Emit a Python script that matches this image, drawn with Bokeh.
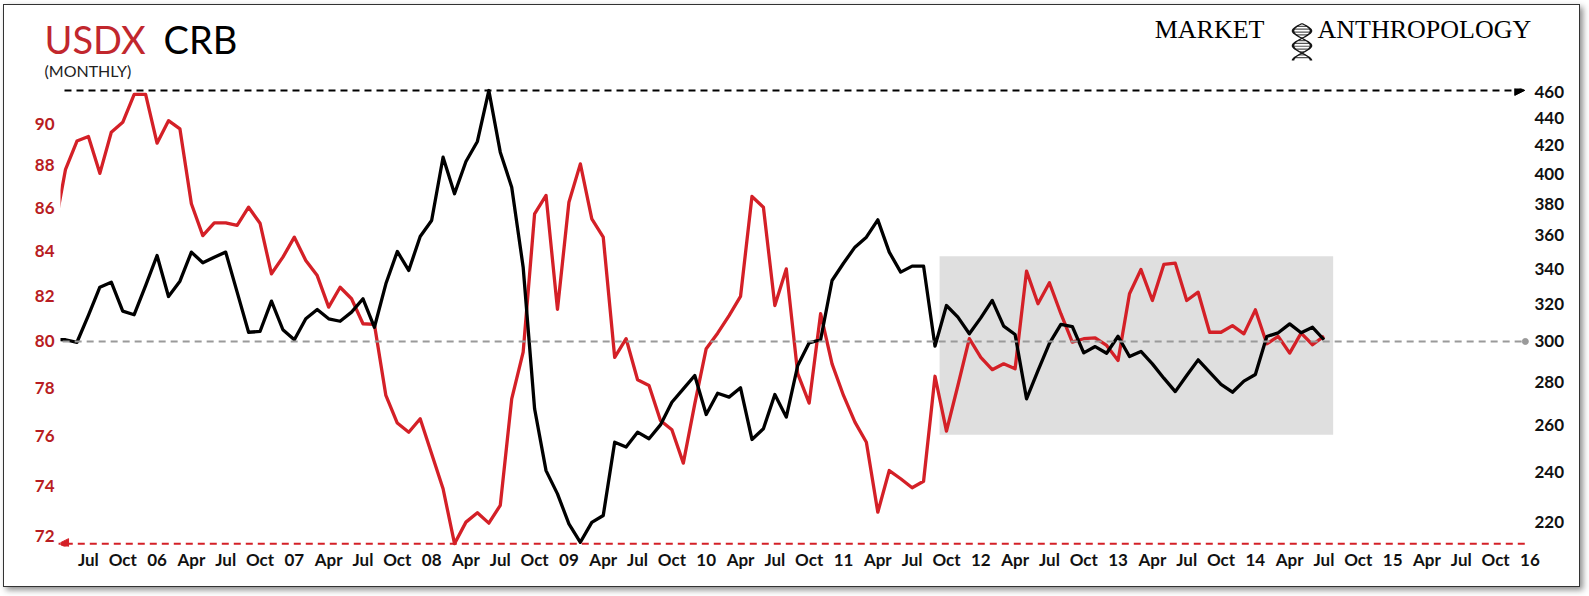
import math
from bokeh.plotting import figure
from bokeh.layouts import column
from bokeh.models import (Range1d, LogScale, LinearAxis, FixedTicker, Arrow, NormalHead)
from bokeh.core.properties import value
from bokeh.embed import file_html
from bokeh.resources import INLINE

# ---------------- data ----------------
# month index: 0 = Jan 2005  (Apr 2005 .. Jul 2014)
months = list(range(3, 115))

usdx = [84.9, 87.8, 89.15, 89.37, 87.61, 89.58, 90.06, 91.43, 91.43, 89.05,
        90.14, 89.74, 86.18, 84.71, 85.30, 85.30, 85.18, 86.02, 85.28, 82.98,
        83.73, 84.64, 83.58, 82.90, 81.50, 82.38, 81.87, 80.77, 80.74, 77.70,
        76.55, 76.17, 76.73, 75.29, 73.88, 71.72, 72.56, 72.93, 72.52, 73.22,
        77.56, 79.54, 85.71, 86.57, 81.40, 86.25, 88.06, 85.48, 84.64, 79.32,
        80.12, 78.36, 78.12, 76.66, 76.27, 74.91, 77.35, 79.69, 80.36, 81.13,
        81.97, 86.52, 86.02, 81.57, 83.20, 78.62, 77.38, 81.21, 79.04, 77.70,
        76.59, 75.76, 72.95, 74.61, 74.28, 73.92, 74.18, 78.51, 76.22, 78.12,
        80.12, 79.32, 78.79, 79.04, 78.83, 83.10, 81.65, 82.58, 81.21, 79.97,
        80.12, 80.16, 79.83, 79.18, 82.09, 83.17, 81.79, 83.40, 83.46, 81.79,
        82.16, 80.40, 80.40, 80.69, 80.33, 81.38, 79.90, 80.22, 79.50, 80.36,
        79.86, 80.23]

crb = [301.0, 300.9, 299.6, 313.7, 329.3, 332.1, 316.0, 314.1, 330.2, 347.7,
       324.1, 332.7, 349.7, 343.4, 346.7, 349.7, 326.5, 304.8, 305.2, 321.5,
       306.1, 300.9, 311.9, 316.9, 311.9, 310.6, 315.5, 322.8, 307.4, 331.2,
       350.1, 338.9, 359.2, 369.2, 411.5, 386.5, 408.5, 422.8, 461.4, 415.1,
       390.9, 340.8, 267.3, 240.4, 231.0, 219.4, 212.6, 220.0, 222.6, 252.4,
       250.3, 256.8, 253.9, 260.0, 270.3, 276.6, 283.0, 264.7, 274.5, 272.7,
       277.1, 253.6, 258.3, 273.9, 263.5, 287.9, 299.3, 300.9, 333.1, 343.1,
       352.7, 358.8, 369.6, 349.7, 337.9, 341.4, 341.4, 297.6, 319.1, 312.8,
       304.0, 312.4, 321.9, 308.0, 303.6, 271.9, 285.4, 299.0, 308.9, 307.8,
       294.2, 297.4, 294.0, 302.7, 292.4, 294.9, 288.7, 281.7, 275.3, 283.0,
       290.7, 284.6, 278.7, 275.0, 280.3, 283.5, 302.6, 304.5, 309.2, 304.5,
       307.4, 300.9]

tick_months = list(range(6, 133, 3))
tick_labels = ["Jul", "Oct",
               "06", "Apr", "Jul", "Oct", "07", "Apr", "Jul", "Oct",
               "08", "Apr", "Jul", "Oct", "09", "Apr", "Jul", "Oct",
               "10", "Apr", "Jul", "Oct", "11", "Apr", "Jul", "Oct",
               "12", "Apr", "Jul", "Oct", "13", "Apr", "Jul", "Oct",
               "14", "Apr", "Jul", "Oct", "15", "Apr", "Jul", "Oct", "16"]

usdx_ticks = [72, 74, 76, 78, 80, 82, 84, 86, 88, 90]
crb_ticks = [220, 240, 260, 280, 300, 320, 340, 360, 380, 400, 420, 440, 460]

usdx_mid, crb_mid = 80, 300          # common reference level (grey dashed)
crb_high_mark = 461.5                # black dashed arrow level (CRB high)
usdx_low_mark = 71.72                # red dashed arrow level (USDX low)
shade_months = (80.4, 114.8)         # grey range box
shade_crb = (255.6, 347.3)

title_words = ["USDX", "CRB"]
subtitle = "(MONTHLY)"
brand_words = ["MARKET", "ANTHROPOLOGY"]

RED = "#D42027"
RED_TXT = "#B81C22"
TITLE_RED = "#C1272D"

W = 1575
HEAD_H = 77
MAIN_H = 504

# ---------------- header (title + logo) ----------------
hd = figure(width=W, height=HEAD_H, output_backend="svg", toolbar_location=None,
            title=None, x_range=Range1d(0, W), y_range=Range1d(HEAD_H, 0),
            x_axis_location=None, y_axis_location=None,
            min_border_left=0, min_border_right=0, min_border_top=0,
            min_border_bottom=0, background_fill_color="white",
            border_fill_color="white")
hd.outline_line_color = None
hd.grid.visible = False
hd.frame_align = False

OX, OY = 4, 5   # page offset of the content box


def htext(px, py, text, font, size, color, align="left"):
    # py = wanted baseline (page px); the svg text sits ~0.38 em lower
    hd.text(x=[px - OX], y=[py - OY - 0.38 * size], text=[text], text_font=value(font),
            text_font_size=f"{size}px", text_color=color, text_align=align,
            text_baseline="alphabetic")


htext(44, 53, title_words[0], "Lato", 38, TITLE_RED)
htext(163, 53, title_words[1], "Lato", 38, "black")
htext(44, 76.5, subtitle, "Lato", 16, "#222222")
htext(1264, 39, brand_words[0], "Liberation Serif", 26, "black", "right")
htext(1317, 39, brand_words[1], "Liberation Serif", 26, "black")

# small DNA helix logo (decoration)
cx, top, hgt, amp = 1301.5, 23.0, 37.0, 9.0
n = 40
strands_x, strands_y = [], []
for phase in (0.0, math.pi):
    fx, fy, bx, by = [], [], [], []
    for i in range(n + 1):
        t = i / n
        xx = cx + amp * math.sin(2 * math.pi * 1.25 * t + phase) - OX
        yy = top + hgt * t - OY
        fx.append(xx + 1.3); fy.append(yy)
        bx.append(xx - 1.3); by.append(yy)
    strands_x.append(fx + bx[::-1]); strands_y.append(fy + by[::-1])
rung_x0, rung_x1, rung_y = [], [], []
for k in range(1, 13):
    t = k / 13
    a = cx + amp * math.sin(2 * math.pi * 1.25 * t) - OX
    b = cx - amp * math.sin(2 * math.pi * 1.25 * t) - OX
    if abs(a - b) < 2:
        continue
    rung_x0.append(min(a, b)); rung_x1.append(max(a, b)); rung_y.append(top + hgt * t - OY)
hd.segment(x0=rung_x0, y0=rung_y, x1=rung_x1, y1=rung_y, line_color="#555555", line_width=1.2)
hd.patches(strands_x, strands_y, fill_color="#151515", line_color=None)

# ---------------- main chart ----------------
p = figure(width=W, height=MAIN_H, output_backend="svg", toolbar_location=None,
           x_range=Range1d(3.56, 132.05), y_range=Range1d(71.61, 91.72),
           y_axis_type="log", x_axis_location=None, y_axis_location=None,
           min_border_left=56, min_border_right=49, min_border_top=6,
           min_border_bottom=40, background_fill_color="white",
           border_fill_color="white")
p.outline_line_color = None
p.grid.visible = False
p.frame_align = False
p.extra_y_ranges = {"crb": Range1d(211.06, 463.0)}
p.extra_y_scales = {"crb": LogScale()}


def style_axis(ax, color, standoff):
    ax.axis_line_color = None
    ax.major_tick_line_color = None
    ax.minor_tick_line_color = None
    ax.major_tick_out = 0
    ax.major_tick_in = 0
    ax.major_label_standoff = standoff
    ax.major_label_text_font = "Lato"
    ax.major_label_text_font_style = "bold"
    ax.major_label_text_font_size = "17px"
    ax.major_label_text_color = color


xaxis = LinearAxis(ticker=FixedTicker(ticks=tick_months),
                   major_label_overrides={m: t for m, t in zip(tick_months, tick_labels)})
style_axis(xaxis, "#111111", 2)
p.add_layout(xaxis, "below")

laxis = LinearAxis(ticker=FixedTicker(ticks=usdx_ticks))
style_axis(laxis, RED_TXT, 6)
p.add_layout(laxis, "left")

raxis = LinearAxis(y_range_name="crb", ticker=FixedTicker(ticks=crb_ticks))
style_axis(raxis, "#111111", 4)
p.add_layout(raxis, "right")

# grey box
p.quad(left=[shade_months[0]], right=[shade_months[1]],
       bottom=[shade_crb[0]], top=[shade_crb[1]], y_range_name="crb",
       fill_color="#DFDFDF", line_color=None)

# grey dashed reference line
p.add_layout(Arrow(x_start=2.7, y_start=usdx_mid, x_end=131.6, y_end=usdx_mid,
                   line_color="#9A9A9A", line_width=2, line_dash="7 5",
                   start=None, end=None))
p.scatter(x=[131.6], y=[usdx_mid], size=6, color="#9A9A9A")

# series
p.line(months, usdx, line_color=RED, line_width=3.3, line_join="round")
p.line(months, crb, y_range_name="crb", line_color="black", line_width=3.3,
       line_join="round")

# dashed arrows
p.add_layout(Arrow(x_start=2.86, y_start=crb_high_mark, x_end=131.55, y_end=crb_high_mark,
                   y_range_name="crb", line_color="black", line_width=2, line_dash="7 5",
                   end=NormalHead(size=10, fill_color="black", line_color="black")))
p.add_layout(Arrow(x_start=131.55, y_start=usdx_low_mark, x_end=3.39, y_end=usdx_low_mark,
                   line_color=RED, line_width=2, line_dash="7 5",
                   end=NormalHead(size=10, fill_color=RED, line_color=RED)))

layout = column(hd, p, spacing=0,
                styles={"margin": "4px 0 0 3px", "border": "1px solid #333",
                        "box-shadow": "3px 3px 6px rgba(0,0,0,0.45)",
                        "background-color": "white"})

open("out.html", "w").write(file_html(layout, INLINE))
